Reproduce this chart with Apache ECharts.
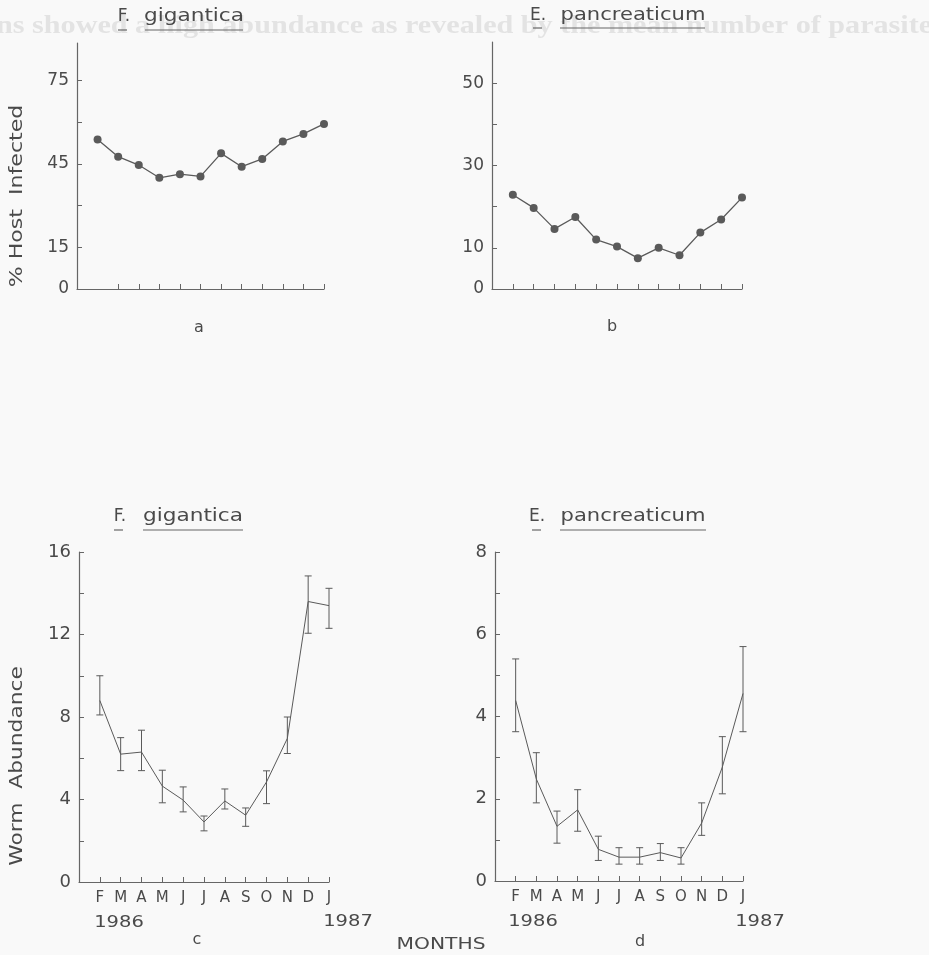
<!DOCTYPE html>
<html>
<head>
<meta charset="utf-8">
<script src="https://cdn.jsdelivr.net/npm/echarts@6/dist/echarts.min.js"></script>
<style>
  html, body { margin: 0; padding: 0; background: #f9f9f9; }
  #main { width: 929px; height: 955px; }
</style>
</head>
<body>
<div id="main"></div>
<script>
// month positions and letters (Feb 1986 .. Jan 1987)
var monthPos = [1, 2, 3, 4, 5, 6, 7, 8, 9, 10, 11, 12];
var monthNames = ['F', 'M', 'A', 'M', 'J', 'J', 'A', 'S', 'O', 'N', 'D', 'J'];

// % host infected
var infectedFg = [53.8, 47.6, 44.6, 40.0, 41.3, 40.5, 48.8, 44.0, 46.8, 53.1, 55.8, 59.4];
var infectedEp = [22.9, 19.7, 14.6, 17.5, 12.0, 10.3, 7.5, 10.0, 8.2, 13.7, 16.9, 22.2];

// worm abundance (mean, lower, upper)
var wormFg = [8.8, 6.2, 6.3, 4.65, 3.97, 2.91, 3.93, 3.24, 4.85, 6.96, 13.6, 13.4];
var wormFgLow = [8.1, 5.4, 5.4, 3.84, 3.40, 2.48, 3.54, 2.70, 3.80, 6.23, 12.06, 12.3];
var wormFgHigh = [10.0, 7.0, 7.36, 5.42, 4.61, 3.20, 4.51, 3.59, 5.39, 8.0, 14.84, 14.24];
var wormEp = [4.39, 2.48, 1.33, 1.73, 0.77, 0.58, 0.58, 0.69, 0.56, 1.41, 2.77, 4.56];
var wormEpLow = [3.63, 1.90, 0.92, 1.21, 0.50, 0.41, 0.41, 0.50, 0.41, 1.11, 2.12, 3.63];
var wormEpHigh = [5.40, 3.12, 1.70, 2.22, 1.09, 0.81, 0.81, 0.91, 0.81, 1.90, 3.51, 5.70];

// axis ticks / labels
var ticksA = [15, 30, 45, 60, 75], labelsA = [0, 15, 45, 75];
var ticksB = [10, 20, 30, 40, 50], labelsB = [0, 10, 30, 50];
var ticksC = [2, 4, 6, 8, 10, 12, 14, 16], labelsC = [0, 4, 8, 12, 16];
var ticksD = [1, 2, 3, 4, 5, 6, 7, 8], labelsD = [0, 2, 4, 6, 8];

var ink = '#4a4a4a';
var lineCol = '#5a5a5a';
var font = 'DejaVu Sans';

function pairs(ys) {
	return monthPos.map(function (x, i) { return [x, ys[i]]; });
}
function bars(lo, hi) {
	return monthPos.map(function (x, i) { return [x, lo[i], hi[i]]; });
}

// error bar drawn through the axis scales
function errBar(params, api) {
	var x = api.value(0);
	var lo = api.coord([x, api.value(1)]);
	var hi = api.coord([x, api.value(2)]);
	var hw = 3.5;
	var st = { stroke: lineCol, lineWidth: 1 };
	return {
		type: 'group',
		children: [
			{ type: 'line', shape: { x1: lo[0], y1: lo[1], x2: hi[0], y2: hi[1] }, style: st },
			{ type: 'line', shape: { x1: lo[0] - hw, y1: lo[1], x2: lo[0] + hw, y2: lo[1] }, style: st },
			{ type: 'line', shape: { x1: hi[0] - hw, y1: hi[1], x2: hi[0] + hw, y2: hi[1] }, style: st }
		]
	};
}

function xAxis(idx, tickVals, withLabels) {
	return {
		type: 'value', gridIndex: idx, min: 0, max: 12,
		axisLine: { lineStyle: { color: '#666', width: 1.2 } },
		axisTick: { inside: true, length: 5, customValues: tickVals, lineStyle: { color: '#666' } },
		axisLabel: withLabels ? {
			customValues: monthPos, margin: 9, color: ink, fontFamily: font, fontSize: 15,
			formatter: function (v) { return monthNames[v - 1]; }
		} : { show: false },
		splitLine: { show: false }
	};
}

function yAxis(idx, max, tickVals, labelVals, size) {
	return {
		type: 'value', gridIndex: idx, min: 0, max: max,
		axisLine: { show: true, lineStyle: { color: '#666', width: 1.2 } },
		axisTick: { show: true, inside: true, length: 5, customValues: tickVals, lineStyle: { color: '#666' } },
		axisLabel: { customValues: labelVals, margin: 8, color: ink, fontFamily: font, fontSize: size },
		splitLine: { show: false }
	};
}

// text helper; sx widens the lettering like the spaced drafting letters
function txt(x, y, text, size, sx, rot) {
	return {
		type: 'text', x: x, y: y, scaleX: sx || 1, rotation: rot || 0,
		style: { text: text, fill: ink, font: size + 'px "' + font + '"', align: 'center', verticalAlign: 'middle' }
	};
}
function rule(x1, x2, y) {
	return { type: 'line', shape: { x1: x1, y1: y, x2: x2, y2: y }, style: { stroke: '#666', lineWidth: 1.2 } };
}

var myChart = echarts.init(document.getElementById('main'));

myChart.setOption({
	backgroundColor: '#f9f9f9',
	animation: false,
	grid: [
		{ left: 77, top: 43, width: 247, height: 246 },
		{ left: 492, top: 42, width: 250, height: 247 },
		{ left: 79, top: 552, width: 250, height: 330 },
		{ left: 495, top: 552, width: 248, height: 329 }
	],
	xAxis: [
		xAxis(0, [2, 3, 4, 5, 6, 7, 8, 9, 10, 11, 12], false),
		xAxis(1, monthPos, false),
		xAxis(2, monthPos, true),
		xAxis(3, monthPos, true)
	],
	yAxis: [
		yAxis(0, 88.5, ticksA, labelsA, 17),
		yAxis(1, 60, ticksB, labelsB, 17),
		yAxis(2, 16, ticksC, labelsC, 18),
		yAxis(3, 8, ticksD, labelsD, 18)
	],
	series: [
		{ type: 'line', xAxisIndex: 0, yAxisIndex: 0, data: pairs(infectedFg), symbol: 'circle', symbolSize: 8,
			itemStyle: { color: lineCol }, lineStyle: { color: lineCol, width: 1.3 } },
		{ type: 'line', xAxisIndex: 1, yAxisIndex: 1, data: pairs(infectedEp), symbol: 'circle', symbolSize: 8,
			itemStyle: { color: lineCol }, lineStyle: { color: lineCol, width: 1.3 } },
		{ type: 'line', xAxisIndex: 2, yAxisIndex: 2, data: pairs(wormFg), symbol: 'none',
			lineStyle: { color: lineCol, width: 1 } },
		{ type: 'custom', xAxisIndex: 2, yAxisIndex: 2, data: bars(wormFgLow, wormFgHigh), renderItem: errBar },
		{ type: 'line', xAxisIndex: 3, yAxisIndex: 3, data: pairs(wormEp), symbol: 'none',
			lineStyle: { color: lineCol, width: 1 } },
		{ type: 'custom', xAxisIndex: 3, yAxisIndex: 3, data: bars(wormEpLow, wormEpHigh), renderItem: errBar }
	],
	graphic: [
		// faint caption line from the page behind
		{ type: 'text', x: -4, y: 26, scaleX: 1.16, z: -10, style: { text: 'ns showed a high abundance as revealed by the mean number of parasite',
			fill: '#e3e3e3', font: 'bold 26px "Liberation Serif"', verticalAlign: 'middle' } },
		// titles
		txt(124, 17, 'F.', 17), txt(194, 16, 'gigantica', 18, 1.2), rule(118, 127, 30), rule(145, 243, 30),
		txt(538, 16, 'E.', 17), txt(633, 15, 'pancreaticum', 18, 1.17), rule(533, 542, 28), rule(560, 705, 28),
		txt(120, 517, 'F.', 17), txt(193, 516, 'gigantica', 18, 1.2), rule(114, 123, 530), rule(143, 243, 530),
		txt(537, 517, 'E.', 17), txt(633, 516, 'pancreaticum', 18, 1.17), rule(532, 541, 530), rule(560, 706, 530),
		// axis names
		txt(18, 196, '% Host  Infected', 17, 1.3, Math.PI / 2),
		txt(18, 766, 'Worm  Abundance', 17, 1.28, Math.PI / 2),
		// panel letters
		txt(199, 328, 'a', 16), txt(612, 327, 'b', 16),
		txt(197, 940, 'c', 16), txt(640, 942, 'd', 16),
		// years and x name
		txt(119, 923, '1986', 15, 1.3), txt(348, 922, '1987', 15, 1.3),
		txt(533, 922, '1986', 15, 1.3), txt(760, 922, '1987', 15, 1.3),
		txt(441, 945, 'MONTHS', 15, 1.35)
	]
});
</script>
</body>
</html>
